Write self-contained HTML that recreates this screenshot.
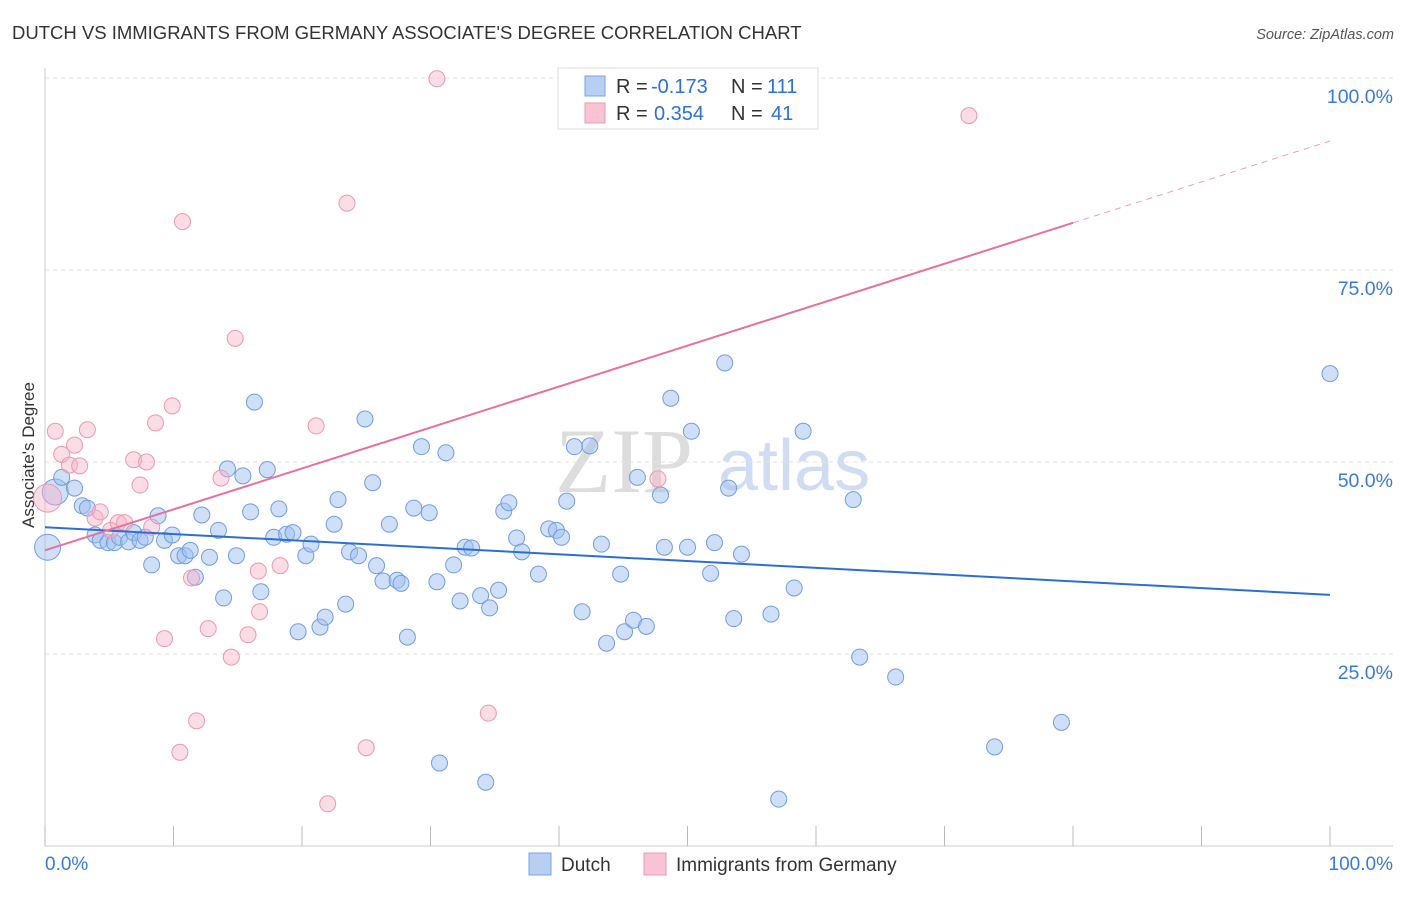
<!DOCTYPE html>
<html><head><meta charset="utf-8"><style>
body{margin:0;background:#fff;font-family:"Liberation Sans",sans-serif}
svg text{font-family:"Liberation Sans",sans-serif}
</style></head><body>
<svg id="chart" width="1406" height="892">
<text x="12" y="39" font-size="18.5" fill="#333">DUTCH VS IMMIGRANTS FROM GERMANY ASSOCIATE'S DEGREE CORRELATION CHART</text>
<text x="1394" y="39" font-size="14.5" fill="#555" text-anchor="end" font-style="italic">Source: ZipAtlas.com</text>
<text x="555" y="492" font-size="92" fill="#ddd" style="font-family:'Liberation Serif',serif">ZIP</text>
<text x="718" y="490" font-size="72" fill="#cfdcf2">atlas</text>
<text transform="translate(34,455) rotate(-90)" font-size="17" fill="#333" text-anchor="middle">Associate's Degree</text>
<g id="grid"></g><g id="marks"></g>
<g>
<rect x="558" y="68" width="260" height="61" fill="#fff" stroke="#ddd"/>
<rect x="585" y="76" width="20" height="20" fill="#b7cff3" stroke="#7aa3e3"/>
<text x="616" y="93" font-size="20" fill="#333">R =</text>
<text x="651" y="93" font-size="20" fill="#2e6fd8">-0.173</text>
<text x="731" y="93" font-size="20" fill="#333">N =</text>
<text x="767" y="93" font-size="20" fill="#2e6fd8">111</text>
<rect x="585" y="103" width="20" height="20" fill="#f8c3d3" stroke="#ec9ab4"/>
<text x="616" y="120" font-size="20" fill="#333">R =</text>
<text x="654" y="120" font-size="20" fill="#2e6fd8">0.354</text>
<text x="731" y="120" font-size="20" fill="#333">N =</text>
<text x="771" y="120" font-size="20" fill="#2e6fd8">41</text>
</g>
<g>
<rect x="529" y="853" width="22" height="22" fill="#b7cff3" stroke="#7aa3e3"/>
<text x="561" y="871" font-size="19" fill="#333">Dutch</text>
<rect x="644" y="853" width="22" height="22" fill="#f8c3d3" stroke="#ec9ab4"/>
<text x="676" y="871" font-size="19" fill="#333">Immigrants from Germany</text>
</g>
</svg>
<script>
const yTicks=[25,50,75,100];
const xTickLabels=["0.0%","100.0%"];
const blueX=[0.2,0.8,1.3,2.3,2.9,3.3,3.9,4.3,4.9,5.4,5.8,6.5,6.9,7.4,7.8,8.3,8.8,9.3,9.9,10.4,10.9,11.3,11.7,12.2,12.8,13.5,13.9,14.2,14.9,15.4,16,16.3,16.8,17.3,17.8,18.2,18.8,19.3,19.7,20.3,20.7,21.4,21.8,22.5,22.8,23.4,23.7,24.4,24.9,25.5,25.8,26.3,26.8,27.4,27.7,28.2,28.7,29.3,29.9,30.5,30.7,31.2,31.8,32.3,32.7,33.2,33.9,34.3,34.6,35.3,35.7,36.1,36.7,37.1,38.4,39.2,39.8,40.2,40.6,41.2,41.8,42.4,43.3,43.7,44.8,45.1,45.8,46.1,46.8,47.9,48.2,48.7,50,50.3,51.8,52.1,52.9,53.2,53.6,54.2,56.5,57.1,58.3,59,62.9,63.4,66.2,73.9,79.1,100];
const blueY=[38.9,46.1,48,46.6,44.3,44,40.5,39.8,39.5,39.5,40.2,39.6,40.8,39.8,40.2,36.6,43,39.8,40.5,37.8,37.8,38.5,35,43.1,37.6,41.1,32.3,49.1,37.8,48.2,43.5,57.8,33.1,49,40.2,43.9,40.6,40.8,27.9,37.8,39.3,28.5,29.8,41.9,45.1,31.5,38.3,37.8,55.6,47.3,36.5,34.5,41.9,34.6,34.2,27.2,44,52,43.4,34.4,10.8,51.2,36.6,31.9,38.9,38.8,32.6,8.3,31,33.3,43.6,44.7,40.1,38.3,35.4,41.3,41.1,40.2,44.9,52,30.5,52.1,39.3,26.4,35.4,27.9,29.4,48,28.6,45.7,38.9,58.3,38.9,54,35.5,39.5,62.9,46.6,29.6,38,30.2,6.1,33.6,54,45.1,24.6,22,12.9,16.1,61.5];
const pinkX=[0.2,0.8,1.3,1.9,2.3,2.7,3.3,3.9,4.3,5.1,5.7,6.2,6.9,7.4,7.9,8.3,8.6,9.3,9.9,10.5,10.7,11.4,11.8,12.7,13.7,14.5,14.8,15.8,16.6,16.7,18.3,21.1,22,23.5,25,30.5,34.5,47.7,71.9];
const pinkY=[45.3,54,51,49.6,52.2,49.5,54.2,42.7,43.5,41.1,42.1,42.1,50.3,47,50,41.5,55.1,27,57.3,12.2,81.3,34.9,16.3,28.3,47.9,24.6,66.1,27.5,35.8,30.5,36.5,54.7,5.5,83.7,12.8,99.9,17.3,47.8,95.1];
const blueTrend=[41.5,32.7];
const pinkTrend=[38.5,0.533];
const X=v=>45+v*12.85, Y=v=>846-v*7.68;
const NS="http://www.w3.org/2000/svg";
const grid=document.getElementById('grid'), marks=document.getElementById('marks');
function mk(tag,attrs,parent){const e=document.createElementNS(NS,tag);for(const k in attrs)e.setAttribute(k,attrs[k]);parent.appendChild(e);return e;}
yTicks.forEach(t=>{
 const l=mk('line',{x1:45,x2:1393,y1:Y(t),y2:Y(t),stroke:'#e2e2e2','stroke-dasharray':'4,4'},grid);
 
 
 const tx=mk('text',{x:1393,y:Y(t)+25,'font-size':19.5,fill:'#3a7bd5','text-anchor':'end'},grid);
 tx.textContent=t.toFixed(1)+'%';
 
 
});
mk('line',{x1:45,x2:45,y1:68,y2:846,stroke:'#ccc'},grid);
mk('line',{x1:45,x2:1393,y1:846,y2:846,stroke:'#ccc'},grid);
for(let i=0;i<=10;i++){const t=mk('line',{x1:X(i*10),x2:X(i*10),y1:826,y2:846,stroke:'#bbb'},grid);
 
 }
const xl0=mk('text',{x:45,y:870,'font-size':19,fill:'#3a7bd5'},grid);xl0.textContent=xTickLabels[0];


const xl1=mk('text',{x:1393,y:870,'font-size':19,fill:'#3a7bd5','text-anchor':'end'},grid);xl1.textContent=xTickLabels[1];


blueX.forEach((v,i)=>{const c=mk('circle',{cx:X(v),cy:Y(blueY[i]),r:i<2?13:8,fill:'rgba(160,192,240,0.5)',stroke:'#6f9de2','stroke-width':1},marks);
 
 });
pinkX.forEach((v,i)=>{const c=mk('circle',{cx:X(v),cy:Y(pinkY[i]),r:i<1?14:8,fill:'rgba(246,180,200,0.45)',stroke:'#ec97b2','stroke-width':1},marks);
 
 });
const bl=mk('line',{x1:X(0),y1:Y(blueTrend[0]),x2:X(100),y2:Y(blueTrend[1]),stroke:'#2b6fd6','stroke-width':2},marks);


const pe=80;
const pl=mk('line',{x1:X(0),y1:Y(pinkTrend[0]),x2:X(pe),y2:Y(pinkTrend[0]+pinkTrend[1]*pe),stroke:'#e8709a','stroke-width':2},marks);


const pd=mk('line',{x1:X(pe),y1:Y(pinkTrend[0]+pinkTrend[1]*pe),x2:X(100),y2:Y(pinkTrend[0]+pinkTrend[1]*100),stroke:'#e8a0b8','stroke-width':1,'stroke-dasharray':'6,5'},marks);


</script>
</body></html>
